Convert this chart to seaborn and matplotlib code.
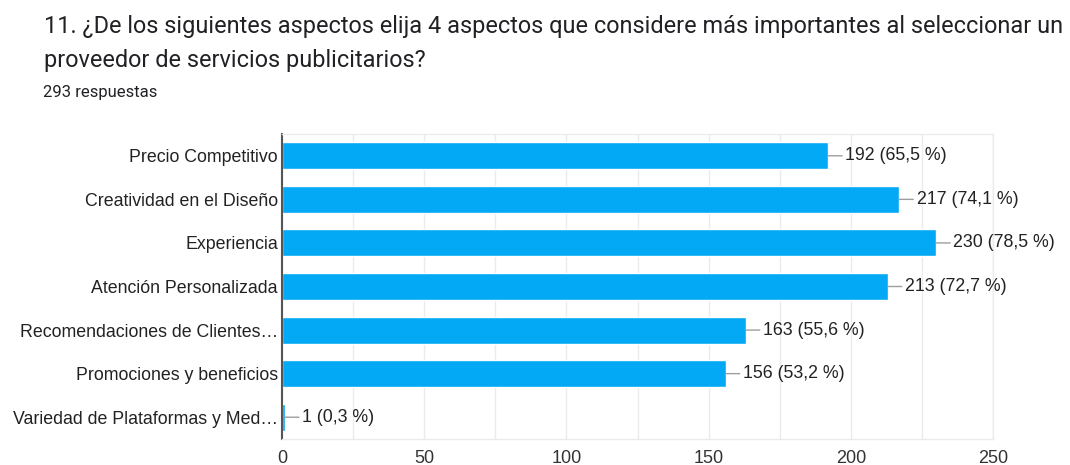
import matplotlib
matplotlib.use("Agg")
import matplotlib.pyplot as plt
from matplotlib.ticker import MultipleLocator
import seaborn as sns
import pandas as pd

categories = [
    "Precio Competitivo",
    "Creatividad en el Diseño",
    "Experiencia",
    "Atención Personalizada",
    "Recomendaciones de Clientes…",
    "Promociones y beneficios",
    "Variedad de Plataformas y Med…",
]
counts = [192, 217, 230, 213, 163, 156, 1]
percents = ["65,5", "74,1", "78,5", "72,7", "55,6", "53,2", "0,3"]
x_ticks = [0, 50, 100, 150, 200, 250]

title_lines = [
    "11. ¿De los siguientes aspectos elija 4 aspectos que considere más importantes al seleccionar un",
    "proveedor de servicios publicitarios?",
]
subtitle = "293 respuestas"

df = pd.DataFrame({"aspecto": categories, "respuestas": counts})

sns.set_theme(style="white")
plt.rcParams["font.family"] = ["Liberation Sans", "DejaVu Sans"]

W, H = 1070, 465
fig = plt.figure(figsize=(W / 100, H / 100), dpi=100)
ax = fig.add_axes([282 / W, 1 - 439 / H, (993 - 282) / W, (439 - 134) / H])

sns.barplot(data=df, x="respuestas", y="aspecto", orient="h", color="#03A9F4",
            saturation=1, width=0.62, ax=ax)

ax.set_xlim(0, 250)
ax.set_ylim(len(categories) - 0.5, -0.5)
ax.xaxis.set_minor_locator(MultipleLocator(25))
ax.set_xticks(x_ticks)
ax.grid(True, which="both", axis="x", color="#ebebeb", lw=1)
ax.set_axisbelow(True)
ax.set_xlabel("")
ax.set_ylabel("")

for side in ("top", "right", "bottom"):
    ax.spines[side].set_visible(True)
    ax.spines[side].set_color("#ebebeb")
    ax.spines[side].set_linewidth(1)
ax.spines["left"].set_color("#555555")
ax.spines["left"].set_linewidth(1.5)

ax.tick_params(axis="x", which="both", length=0, pad=8, labelsize=13, labelcolor="#333333")
ax.tick_params(axis="y", length=0, pad=3, labelsize=12.8, labelcolor="#222222")

for i, (v, p) in enumerate(zip(counts, percents)):
    ax.annotate(f"{v} ({p} %)", xy=(v, i), xytext=(12.5, 0), textcoords="offset points",
                va="center", ha="left", fontsize=12.8, color="#222222",
                arrowprops=dict(arrowstyle="-", color="#9e9e9e", lw=1,
                                shrinkA=0, shrinkB=0))

roboto = ["Roboto", "DejaVu Sans"]
fig.text(44 / W, 1 - 33 / H, title_lines[0], fontsize=16.9, color="#202124",
         family=roboto, va="baseline", ha="left")
fig.text(44 / W, 1 - 67 / H, title_lines[1], fontsize=16.9, color="#202124",
         family=roboto, va="baseline", ha="left")
fig.text(43 / W, 1 - 97 / H, subtitle, fontsize=12, color="#202124",
         family=roboto, va="baseline", ha="left")

fig.savefig("out.png", dpi=100, facecolor="white")
